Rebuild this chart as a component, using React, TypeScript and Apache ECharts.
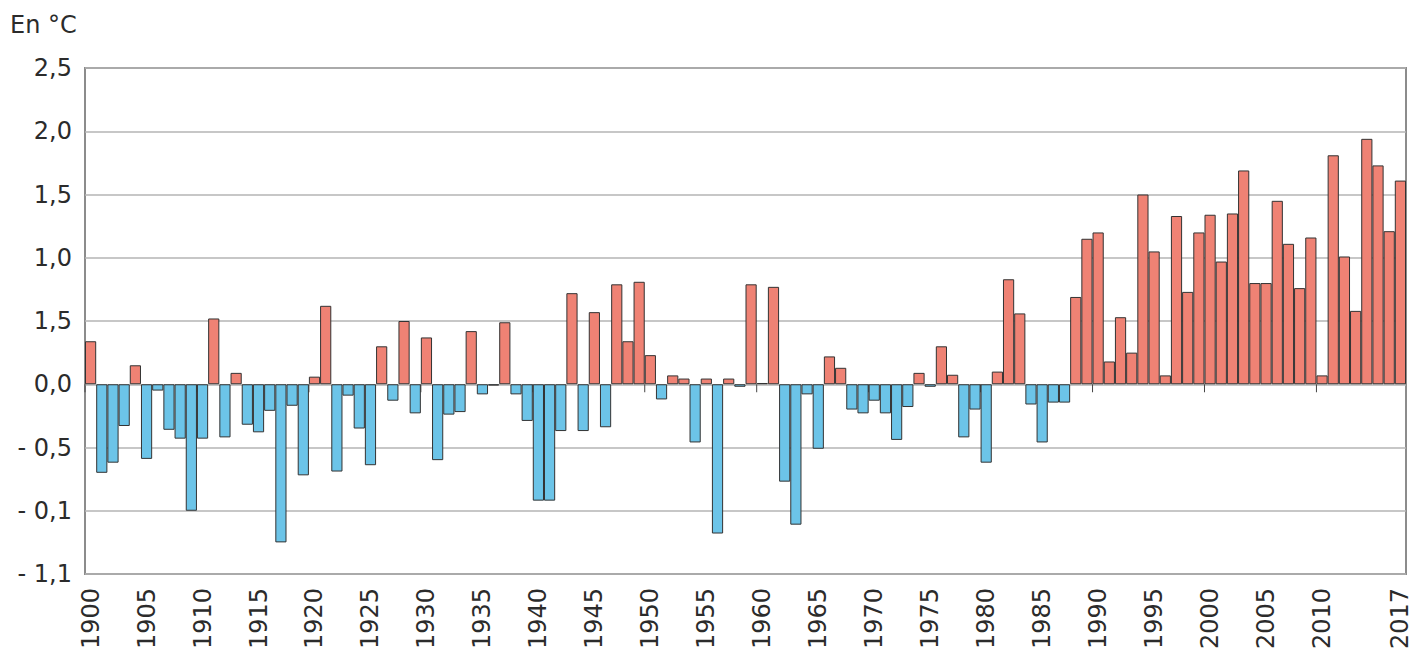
import React, { useEffect, useRef } from "react";
import * as echarts from "echarts";

const years: string[] = [];
for (let y = 1900; y <= 2017; y++) years.push(String(y));

const anomalies: number[] = [
  0.34, -0.70, -0.62, -0.33, 0.15, -0.59, -0.05, -0.36, -0.43, -1.00,
  -0.43, 0.52, -0.42, 0.09, -0.32, -0.38, -0.21, -1.25, -0.17, -0.72,
  0.06, 0.62, -0.69, -0.09, -0.35, -0.64, 0.30, -0.13, 0.50, -0.23,
  0.37, -0.60, -0.24, -0.22, 0.42, -0.08, -0.01, 0.49, -0.08, -0.29,
  -0.92, -0.92, -0.37, 0.72, -0.37, 0.57, -0.34, 0.79, 0.34, 0.81,
  0.23, -0.12, 0.07, 0.045, -0.46, 0.045, -1.18, 0.045, -0.02, 0.79,
  0.01, 0.77, -0.77, -1.11, -0.08, -0.51, 0.22, 0.13, -0.20, -0.23,
  -0.13, -0.23, -0.44, -0.18, 0.09, -0.02, 0.30, 0.075, -0.42, -0.20,
  -0.62, 0.10, 0.83, 0.56, -0.16, -0.46, -0.145, -0.145, 0.69, 1.15,
  1.20, 0.18, 0.53, 0.25, 1.50, 1.05, 0.07, 1.33, 0.73, 1.20,
  1.34, 0.97, 1.35, 1.69, 0.80, 0.80, 1.45, 1.11, 0.76, 1.16,
  0.07, 1.81, 1.01, 0.58, 1.94, 1.73, 1.21, 1.61,
];

const yTickValues: number[] = [2.5, 2.0, 1.5, 1.0, 0.5, 0.0, -0.5, -1.0, -1.5];
const yTickLabels: string[] = ["2,5", "2,0", "1,5", "1,0", "1,5", "0,0", "- 0,5", "- 0,1", "- 1,1"];

// decade boundaries that carry a small tick under the zero line
const zeroTickYears: string[] = ["1900", "1910", "1920", "1930", "1940", "1950", "1960", "1970", "1980", "1990", "2000", "2010"];

const unitLabel = "En °C";

const RED = "#ef8274";
const BLUE = "#6cc4e8";
const FONT = "DejaVu Sans";
const TEXT = "#2b2b2b";

export default function App() {
  const ref = useRef<HTMLDivElement>(null);

  useEffect(() => {
    if (!ref.current) return;
    const chart = echarts.init(ref.current, undefined, { renderer: "svg" });
    const lastIdx = years.length - 1;
    chart.setOption({
      animation: false,
      backgroundColor: "#ffffff",
      textStyle: { fontFamily: FONT },
      graphic: [
        {
          type: "text",
          left: 10,
          top: 13,
          style: { text: unitLabel, font: `24px "${FONT}"`, fill: TEXT },
        },
      ],
      grid: {
        show: true,
        left: 85,
        top: 68,
        right: 10,
        bottom: 79,
        borderColor: "#8c8c8c",
        borderWidth: 2,
        containLabel: false,
      },
      xAxis: {
        type: "category",
        data: years,
        position: "bottom",
        boundaryGap: true,
        axisLine: { show: false, onZero: false },
        axisTick: { show: false },
        splitLine: { show: false },
        axisLabel: {
          rotate: 90,
          margin: 14,
          fontSize: 24,
          fontFamily: FONT,
          color: TEXT,
          interval: (i: number) => (i % 5 === 0 && i <= 110) || i === lastIdx,
        },
      },
      yAxis: {
        type: "value",
        min: -1.5,
        max: 2.5,
        interval: 0.5,
        axisLine: { show: false },
        axisTick: { show: false },
        splitLine: { show: true, lineStyle: { color: "#b4b4b4", width: 1.5 } },
        axisLabel: {
          margin: 13,
          fontSize: 24,
          fontFamily: FONT,
          color: TEXT,
          formatter: (v: number) => {
            const k = yTickValues.findIndex((t) => Math.abs(t - v) < 1e-6);
            return k >= 0 ? yTickLabels[k] : "";
          },
        },
      },
      series: [
        {
          type: "custom",
          z: 1,
          silent: true,
          data: zeroTickYears.map((y) => [y, 0]),
          renderItem: (params: any, api: any) => {
            const p = api.coord([api.value(0), 0]);
            const w = api.size([1, 0])[0];
            const x = p[0] - w / 2;
            return {
              type: "line",
              shape: { x1: x, y1: p[1], x2: x, y2: p[1] + 8 },
              style: { stroke: "#444", lineWidth: 1 },
            };
          },
        },
        {
          type: "bar",
          z: 2,
          barWidth: "100%",
          barCategoryGap: "0%",
          barGap: "0%",
          data: anomalies.map((v) => ({
            value: v,
            itemStyle: { color: v >= 0 ? RED : BLUE },
          })),
          itemStyle: { borderColor: "#333333", borderWidth: 1 },
        },
      ],
    });
    return () => chart.dispose();
  }, []);

  return (
    <div
      ref={ref}
      style={{ position: "absolute", left: 0, top: 0, width: 1416, height: 653 }}
    />
  );
}
